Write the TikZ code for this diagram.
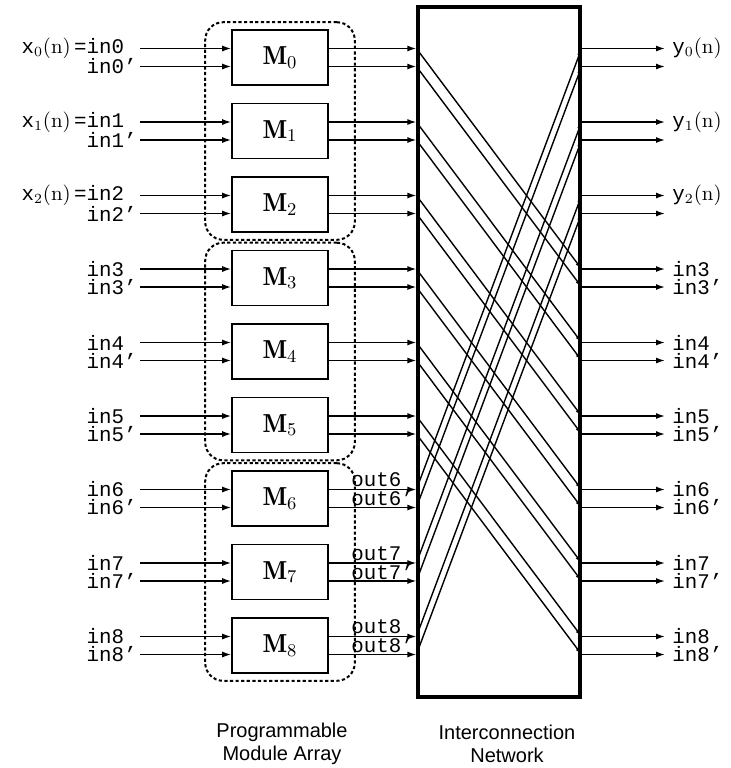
\documentclass[tikz,border=0pt]{standalone}
\usepackage{fontspec}
\setmonofont{Liberation Mono}
\setsansfont{Liberation Sans}
\usetikzlibrary{arrows.meta,positioning,fit}

\tikzset{
  module/.style={draw, line width=0.8pt, minimum width=48pt, minimum height=27.5pt, inner sep=0pt, font=\fontsize{13}{15}\selectfont},
  network/.style={draw, line width=1.6pt, minimum width=81pt, minimum height=345pt, inner sep=0pt},
  modgroup/.style={draw, line width=1pt, dash pattern=on 1.6pt off 1.2pt, rounded corners=9pt, inner xsep=13pt, inner ysep=3.5pt},
  sig/.style={line width=0.75pt, -{Latex[length=4.5pt,width=3pt]}},
  wire/.style={line width=0.7pt, -{Latex[length=3.5pt,width=2pt]}},
  port/.style={font=\ttfamily\fontsize{10.4}{12}\selectfont, inner sep=0pt},
  caption/.style={font=\sffamily\fontsize{10}{11.5}\selectfont, align=center}
}

\begin{document}
\begin{tikzpicture}[x=0.5pt, y=-0.5pt]
\useasboundingbox (0,0) rectangle (731,768);

% interconnection network
\node[network] (net) at (499,352) {};

% module rows: inputs, module, lines into the network, network outputs
\foreach \i in {0,...,8} {
  \pgfmathsetmacro\c{57.5+73.5*\i}
  \node[module] (M\i) at (280,\c) {$\mathbf{M}_{\i}$};
  \coordinate (a\i) at (140,{\c-9});
  \coordinate (b\i) at (140,{\c+9});
  \coordinate (ya\i) at (665,{\c-9});
  \coordinate (yb\i) at (665,{\c+9});
  \draw[sig] (a\i) -- (a\i -| M\i.west);
  \draw[sig] (b\i) -- (b\i -| M\i.west);
  \draw[sig] (a\i -| M\i.east) -- (a\i -| net.west);
  \draw[sig] (b\i -| M\i.east) -- (b\i -| net.west);
  \draw[sig] (a\i -| net.east) -- (ya\i);
  \draw[sig] (b\i -| net.east) -- (yb\i);
  \ifnum\i<3
    \node[port, left=1.5pt] (la\i) at (a\i) {x$_{\i}${\rmfamily(n)}\,=in\i\phantom{’}};
    \node[port, right=3.5pt] (ra\i) at (ya\i) {y$_{\i}${\rmfamily(n)}};
  \else
    \node[port, left=1.5pt] (la\i) at (a\i) {in\i\phantom{’}};
    \node[port, right=3.5pt] (ra\i) at (ya\i) {in\i};
    \node[port, right=3.5pt] (rb\i) at (yb\i) {in\i’};
  \fi
  \node[port, left=1.5pt] (lb\i) at (b\i) {in\i’};
  \ifnum\i>5
    \node[port, anchor=south west] (oa\i) at (351,{\c-11}) {out\i};
    \node[port, anchor=south west] (ob\i) at (351,{\c+8}) {out\i’};
  \fi
}

% crossing wires inside the network
\foreach \i in {0,...,8} {
  \pgfmathtruncatemacro\j{mod(\i+3,9)}
  \draw[wire] (a\i -| net.west) -- (ya\j -| net.east);
  \draw[wire] (b\i -| net.west) -- (yb\j -| net.east);
}

% module groups
\node[modgroup, fit=(M0)(M2)] (grpA) {};
\node[modgroup, fit=(M3)(M5)] (grpB) {};
\node[modgroup, fit=(M6)(M8)] (grpC) {};

\node[caption] (capA) at (282,744) {Programmable\\Module Array};
\node[caption] (capB) at (507,744) {Interconnection\\Network};

\end{tikzpicture}
\end{document}
